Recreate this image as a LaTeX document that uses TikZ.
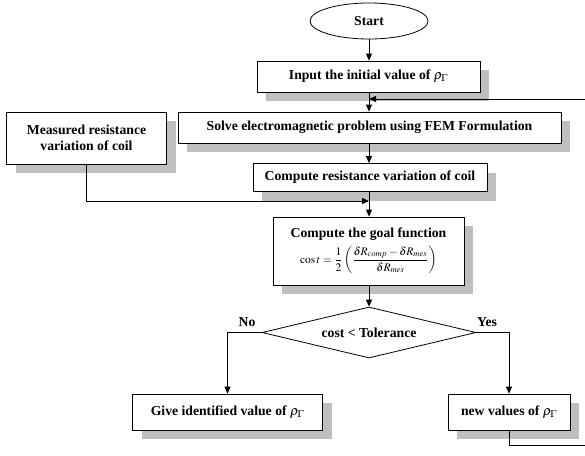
\documentclass[tikz,border=0pt]{standalone}
\usepackage{amsmath}
\usepackage{mathptmx}
\usepackage{fontspec}
\setmainfont{Liberation Serif}
\usetikzlibrary{shapes.geometric,shadows,arrows.meta}
\begin{document}
\begin{tikzpicture}[x=1pt,y=-1pt,
  every node/.style={font=\fontsize{13.7}{16}\selectfont\bfseries},
  box/.style={draw,rectangle,fill=white,line width=0.8pt,inner sep=2pt,align=center,
    drop shadow={shadow xshift=9pt,shadow yshift=-9pt,fill=black!25,opacity=1}},
  arr/.style={line width=0.8pt,-{Triangle[length=7pt,width=6pt]}},
  ln/.style={line width=0.8pt}]
\useasboundingbox (0,0) rectangle (585,455);
\node[draw,ellipse,line width=0.8pt,minimum width=118pt,minimum height=36pt,inner sep=0pt] (start) at (369,21) {Start};
\node[box,minimum width=223pt,minimum height=31pt] (input) at (368.5,76.5) {Input the initial value of $\rho_{\Gamma}$};
\node[box,minimum width=383pt,minimum height=31pt] (solve) at (369.5,127.5) {Solve electromagnetic problem using FEM Formulation};
\node[box,minimum width=160pt,minimum height=52pt] (meas) at (86.5,138) {Measured resistance\\variation of coil};
\node[box,minimum width=234pt,minimum height=28pt] (comp) at (370,177.5) {Compute resistance variation of coil};
\node[box,minimum width=191pt,minimum height=68pt] (goal) at (368.5,251) {Compute the goal function\\[5pt]
  {\normalfont\fontsize{11.5}{13}\selectfont $\cos t=\dfrac{1}{2}\left(\dfrac{\delta R_{comp}-\delta R_{mes}}{\delta R_{mes}}\right)$}};
\node[draw,diamond,line width=0.8pt,aspect=4,inner sep=0pt,minimum width=214pt,minimum height=51pt] (dia) at (369,332.5) {cost < Tolerance};
\node[box,minimum width=190pt,minimum height=36pt] (give) at (227.5,412) {Give identified value of $\rho_{\Gamma}$};
\node[box,minimum width=122pt,minimum height=36pt] (new) at (509,412) {new values of $\rho_{\Gamma}$};
\node (no) at (247,322) {No};
\node (yes) at (487,322) {Yes};
\coordinate (fbR) at (586,99);
\coordinate (botR) at (586,445);
\coordinate (merge) at (369,201);
\draw[arr] (start) -- (input.north -| start);
\draw[arr] (input.south -| start) -- (solve.north -| start);
\draw[arr] (fbR) -- (fbR -| start);
\draw[arr] (solve.south -| start) -- (comp.north -| start);
\draw[arr] (meas.south) |- (merge);
\draw[arr] (comp.south -| start) -- (goal.north -| start);
\draw[arr] (goal.south -| start) -- (dia.north -| start);
\draw[arr] (dia.west) -| (give.north);
\draw[arr] (dia.east) -| (new.north);
\draw[ln] (new.south) |- (botR);
\end{tikzpicture}
\end{document}
